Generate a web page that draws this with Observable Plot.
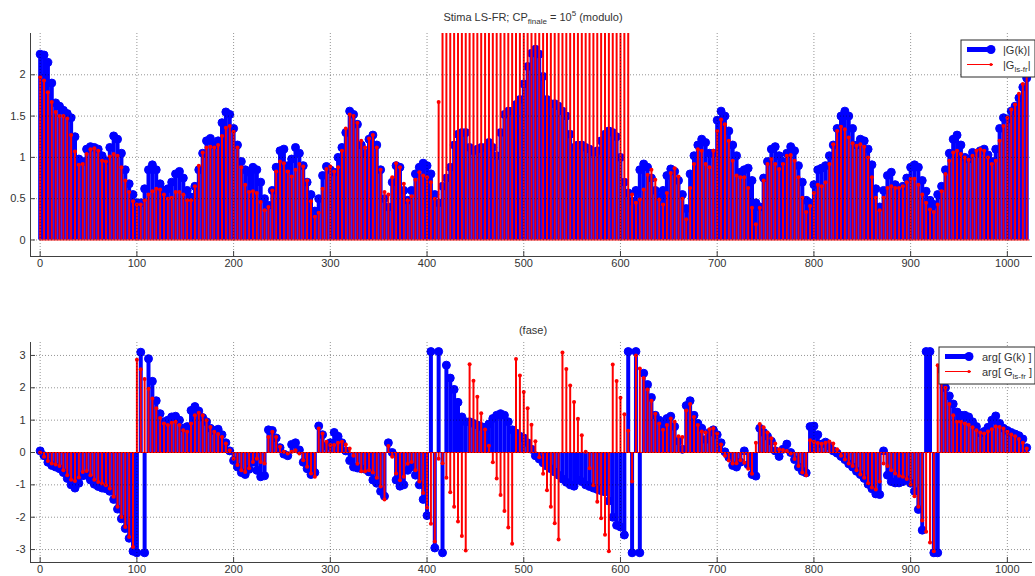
<!DOCTYPE html>
<html>
<head>
<meta charset="utf-8">
<script src="https://cdn.jsdelivr.net/npm/d3@7"></script>
<script src="https://cdn.jsdelivr.net/npm/@observablehq/plot@0.6"></script>
<style>
  body { margin: 0; background: #fff; }
  #chart { width: 1035px; height: 576px; position: relative; }
  #chart svg { display: block; overflow: visible; }
</style>
</head>
<body>
<div id="chart"></div>
<script>
// Frequency bins (every 4th bin of the 1024-point grid)
const k = d3.range(0, 1024, 4);

// |G(k)| : true frequency response magnitude
const magG = [
  2.25,2.24,2.15,1.9,1.66,1.62,1.57,1.53,1.48,1.25,0.98,0.95,1.1,1.13,1.12,1.1,
  1.02,0.96,1.12,1.26,1.22,1.05,0.85,0.68,0.55,0.45,0.45,0.62,0.85,0.91,0.85,0.68,
  0.6,0.62,0.7,0.8,0.83,0.75,0.6,0.52,0.65,0.85,1.05,1.2,1.23,1.15,1.2,1.42,
  1.55,1.52,1.35,1.15,0.95,0.85,0.82,0.88,0.85,0.7,0.5,0.42,0.6,0.88,1.08,1.1,
  0.9,0.98,1.12,1.05,0.9,0.7,0.55,0.35,0.5,0.78,0.89,0.85,0.82,1.0,1.12,1.3,
  1.56,1.52,1.4,1.15,1.05,1.22,1.27,1.15,0.85,0.5,0.4,0.7,0.9,0.88,0.6,0.48,
  0.6,0.8,0.88,0.93,0.9,0.8,0.55,0.45,0.65,0.75,0.88,1.15,1.28,1.3,1.3,1.12,
  1.08,1.1,1.12,1.12,1.18,1.12,1.02,1.3,1.52,1.56,1.56,1.64,1.7,1.89,2.1,2.26,
  2.31,2.25,1.98,1.7,1.65,1.65,1.62,1.56,1.5,1.28,1.12,1.15,1.15,1.12,1.1,1.06,
  1.08,1.2,1.28,1.32,1.3,1.25,1.0,0.7,0.57,0.47,0.6,0.85,0.92,0.88,0.75,0.6,
  0.52,0.6,0.78,0.86,0.83,0.72,0.55,0.38,0.8,1.02,1.15,1.22,1.18,1.05,1.05,1.45,
  1.56,1.5,1.32,1.15,1.02,0.82,0.85,0.87,0.72,0.45,0.4,0.75,0.95,1.1,1.13,1.02,
  0.95,1.05,1.13,1.08,0.9,0.7,0.48,0.45,0.67,0.85,0.87,0.9,1.02,1.15,1.35,1.5,
  1.56,1.5,1.35,1.15,1.22,1.2,1.1,0.91,0.62,0.4,0.6,0.78,0.82,0.67,0.6,0.65,
  0.75,0.88,0.91,0.88,0.72,0.59,0.48,0.43,0.55,0.65,0.85,1.05,1.22,1.27,1.15,1.0,
  0.98,1.06,1.05,1.08,1.1,1.03,0.95,1.1,1.35,1.48,1.46,1.56,1.62,1.72,1.85,1.96
];

// |G_ls-fr| : LS frequency-response estimate (bins 416..608 run past the top of the axis)
const magLS = [
  1.97,1.93,1.79,1.67,1.55,1.5,1.5,1.47,1.27,1.07,0.91,0.92,1.04,1.1,1.11,1.08,
  0.96,0.95,1.01,1.04,1.02,0.88,0.72,0.58,0.47,0.43,0.43,0.48,0.55,0.59,0.62,0.61,
  0.55,0.5,0.51,0.58,0.58,0.55,0.48,0.48,0.65,0.9,1.06,1.12,1.13,1.12,1.15,1.26,
  1.36,1.38,1.31,1.12,0.88,0.67,0.58,0.59,0.57,0.46,0.36,0.4,0.6,0.83,0.95,0.93,
  0.83,0.77,0.85,0.92,0.89,0.72,0.47,0.28,0.33,0.62,0.86,0.89,0.83,0.88,1.08,1.35,
  1.52,1.5,1.42,1.2,1.12,1.23,1.27,1.12,0.85,0.58,0.55,0.76,0.93,0.88,0.68,0.48,
  0.53,0.73,0.82,0.78,0.76,0.7,0.5,1.67,3,3,3,3,3,3,3,3,
  3,3,3,3,3,3,3,3,3,3,3,3,3,3,3,3,
  3,3,3,3,3,3,3,3,3,3,3,3,3,3,3,3,
  3,3,3,3,3,3,3,3,3,0.55,0.45,0.49,0.61,0.79,0.85,0.73,
  0.49,0.43,0.57,0.81,0.87,0.77,0.5,0.25,0.63,0.92,1.1,1.08,0.92,0.88,1.08,1.32,
  1.46,1.4,1.2,0.96,0.78,0.76,0.76,0.63,0.39,0.19,0.39,0.72,0.92,0.98,0.92,0.86,
  0.92,1.02,1.03,0.96,0.76,0.51,0.34,0.41,0.57,0.67,0.65,0.7,0.92,1.16,1.32,1.37,
  1.34,1.24,1.17,1.14,1.16,1.13,1.0,0.76,0.51,0.36,0.51,0.63,0.65,0.63,0.63,0.65,
  0.7,0.74,0.74,0.67,0.55,0.45,0.37,0.34,0.43,0.59,0.8,0.96,1.06,1.08,1.04,1.0,
  0.97,1.02,1.08,1.1,1.08,1.0,0.92,0.96,1.2,1.38,1.48,1.58,1.64,1.77,1.89,1.99
];

// arg[G(k)] : true phase (rad)
const argG = [
  0.05,-0.1,-0.3,-0.4,-0.45,-0.5,-0.62,-0.8,-1.0,-1.1,-0.95,-0.72,-0.7,-0.85,-0.98,-1.05,
  -1.1,-1.12,-1.2,-1.45,-1.75,-2.05,-2.35,-2.65,-3.05,-3.1,3.1,-3.1,2.9,2.2,1.6,1.2,
  0.95,1.0,1.1,1.12,1.0,0.75,0.8,1.3,1.42,1.28,1.08,0.95,0.75,0.68,0.72,0.55,
  0.3,0.05,-0.25,-0.45,-0.62,-0.68,-0.52,-0.3,-0.55,-0.75,-0.72,0.7,0.68,0.45,0.15,-0.05,
  -0.1,0.25,0.3,0.08,-0.3,-0.5,-0.68,-0.62,0.82,0.55,0.2,0.3,0.62,0.5,0.3,0.05,
  -0.25,-0.45,-0.48,-0.5,-0.52,-0.6,-0.85,-0.95,-1.2,-1.35,0.3,0.0,-0.85,-1.04,-1.0,-0.55,
  -0.45,-0.7,-1.0,-1.45,-1.95,3.12,-2.95,3.12,-3.1,2.7,2.3,1.95,1.55,1.1,0.95,0.95,
  0.9,0.85,0.8,0.78,0.88,1.05,1.15,1.2,1.15,0.95,0.7,0.6,0.5,0.45,0.3,0.1,
  -0.1,-0.2,-0.32,-0.42,-0.5,-0.6,-0.7,-0.82,-0.92,-1.0,-1.04,-0.85,-0.9,-1.0,-1.05,-1.1,
  -1.14,-1.18,-1.22,-1.5,-2.0,-2.25,-2.3,-2.55,3.12,-3.1,3.12,-3.1,2.45,2.1,1.7,1.15,
  1.0,0.85,1.05,1.12,0.8,0.35,0.1,1.45,1.6,1.15,0.9,0.75,0.4,0.62,0.7,0.55,
  0.3,0.02,-0.15,-0.4,-0.45,-0.3,0.05,-0.38,-0.68,-0.73,0.75,0.62,0.5,0.35,0.05,-0.12,
  0.1,0.26,0.0,-0.22,-0.45,-0.58,-0.63,0.8,0.82,0.55,0.26,0.32,0.2,0.05,-0.02,-0.12,
  -0.22,-0.35,-0.45,-0.58,-0.68,-0.8,-0.98,-1.12,-1.28,-1.3,0.05,-0.7,-0.9,-0.94,-0.94,-0.9,
  -0.84,-0.95,-1.2,-1.76,-2.4,3.12,3.12,-3.1,-3.1,2.55,2.0,1.75,1.5,1.25,1.15,1.15,
  1.1,0.95,0.8,0.6,0.65,0.78,1.0,1.13,0.9,0.75,0.68,0.62,0.57,0.52,0.42,0.15
];

// arg[G_ls-fr] : phase of the LS estimate (rad)
const argLS = [
  0,-0.13,-0.26,-0.34,-0.37,-0.42,-0.55,-0.7,-0.84,-0.88,-0.77,-0.6,-0.57,-0.7,-0.84,-0.91,
  -0.96,-1.01,-1.11,-1.37,-1.68,-1.99,-2.3,-2.61,-2.92,2.87,2.57,2.27,1.97,1.67,1.37,1.07,
  0.9,0.85,0.92,0.95,0.85,0.69,0.64,0.9,1.15,1.23,1.15,1.0,0.79,0.64,0.57,0.48,
  0.28,0.07,-0.19,-0.39,-0.55,-0.6,-0.49,-0.29,-0.19,-0.29,-0.34,0.48,0.64,0.48,0.18,0.02,
  -0.03,0.02,0.07,-0.03,-0.24,-0.44,-0.65,-0.75,0.74,0.59,0.33,0.23,0.23,0.3,0.33,0.25,
  0.12,-0.1,-0.35,-0.58,-0.58,-0.55,-0.62,-0.78,-1.05,-1.45,0.2,-0.13,-0.65,-0.86,-0.75,-0.35,
  -0.29,-0.55,-0.9,-1.25,-1.7,-2.2,-2.75,-0.19,-0.33,-0.78,-1.23,-1.68,-2.13,-2.58,-3.03,2.73,
  2.22,1.72,1.21,0.71,0.21,-0.3,-0.8,-1.31,-1.81,-2.32,-2.82,2.89,2.38,1.87,1.37,0.86,
  0.35,-0.15,-0.66,-1.17,-1.68,-2.19,-2.69,3.09,2.58,2.07,1.56,1.04,0.53,0.02,-0.49,-1.01,
  -1.52,-2.03,-2.54,-3.05,2.72,2.21,1.69,1.18,0.67,-0.9,3.0,2.6,2.3,1.95,1.6,1.2,
  0.9,0.7,0.85,1.05,0.95,0.5,0.48,1.3,1.5,1.1,0.85,0.65,0.62,0.72,0.75,0.59,
  0.25,-0.1,-0.25,-0.34,-0.33,-0.24,-0.32,-0.5,-0.66,0.3,0.88,0.78,0.62,0.44,0.28,0.1,
  0.08,0.05,-0.03,-0.2,-0.42,-0.62,-0.7,0.38,0.33,0.29,0.27,0.3,0.34,0.28,0.1,-0.1,
  -0.22,-0.34,-0.42,-0.55,-0.68,-0.78,-0.95,-1.08,-1.14,-0.9,-0.34,-0.42,-0.55,-0.65,-0.72,-0.75,
  -0.82,-1.0,-1.35,-1.68,-2.1,-2.45,-2.78,-3.05,2.7,2.3,2.0,1.5,1.15,0.95,0.95,0.9,
  0.86,0.78,0.69,0.62,0.59,0.65,0.72,0.8,0.79,0.74,0.64,0.56,0.5,0.42,0.3,0.12
];

const xTicks = [0, 100, 200, 300, 400, 500, 600, 700, 800, 900, 1000];
const magTicks = [0, 0.5, 1, 1.5, 2];
const argTicks = [-3, -2, -1, 0, 1, 2, 3];

const W = 1035;
const FONT = "'Liberation Sans', Arial, Helvetica, sans-serif";
const INK = "#333";
const AXIS = "#404040";
const BLUE = "#0000ff";
const RED = "#ff0000";
const X_DOMAIN = [-10, 1026];
const ML = 30, MR = 3;

// One stem panel: blue stems (true G), red stems (LS estimate), dotted grid, MATLAB-like axes
function stemPanel({g, ls, yDomain, yTicks, height, marginTop, marginBottom}) {
  const rows = k.map((kk, i) => ({k: kk, g: g[i], ls: ls[i]}));
  const frameH = height - marginTop - marginBottom;
  const frameW = W - ML - MR;
  return Plot.plot({
    width: W,
    height,
    marginLeft: ML,
    marginRight: MR,
    marginTop,
    marginBottom,
    style: {fontFamily: FONT, fontSize: "11px", color: INK, background: "transparent", overflow: "visible"},
    x: {domain: X_DOMAIN, ticks: xTicks, tickSize: 0, tickPadding: 3, label: null, tickFormat: d => String(d)},
    y: {domain: yDomain, ticks: yTicks, tickSize: 0, tickPadding: 5, label: null, tickFormat: d => String(d)},
    marks: [
      Plot.ruleX(rows, {x: "k", y1: 0, y2: "g", stroke: BLUE, strokeWidth: 4, clip: true}),
      Plot.dot(rows, {x: "k", y: "g", r: 4, fill: BLUE, stroke: BLUE, strokeWidth: 1, clip: true}),
      Plot.ruleY([0], {x1: 0, x2: 1023, stroke: RED, strokeWidth: 1}),
      Plot.ruleX(rows, {x: "k", y1: 0, y2: "ls", stroke: RED, strokeWidth: 2, clip: true}),
      Plot.dot(rows, {x: "k", y: "ls", r: 2, fill: RED, stroke: "none", clip: true}),
      // dotted grid drawn over the stems
      Plot.ruleX(xTicks, {stroke: "#000", strokeOpacity: 0.42, strokeDasharray: "1,2"}),
      Plot.ruleY(yTicks, {stroke: "#000", strokeOpacity: 0.42, strokeDasharray: "1,2"}),
      // left and bottom axis lines
      Plot.ruleX([X_DOMAIN[0]], {stroke: AXIS}),
      Plot.ruleY([yDomain[0]], {stroke: AXIS}),
      // inward tick marks
      Plot.ruleX(xTicks, {stroke: AXIS, insetTop: frameH - 5}),
      Plot.ruleY(yTicks, {stroke: AXIS, insetRight: frameW - 5})
    ]
  });
}

// Boxed legend with a thick blue stem entry and a thin red stem entry
function addLegend(svg, box, entries) {
  const g = d3.select(svg).append("g").attr("font-family", FONT).attr("font-size", 11)
    .attr("fill", INK).attr("text-anchor", "start");
  g.append("rect").attr("x", box.x).attr("y", box.y).attr("width", box.w).attr("height", box.h)
    .attr("fill", "#fff").attr("stroke", "#2a2a2a").attr("stroke-width", 1);
  entries.forEach((e, i) => {
    const y = box.y + 9.5 + i * 15;
    g.append("line").attr("x1", box.x + 6).attr("x2", box.x + 32).attr("y1", y).attr("y2", y)
      .attr("stroke", e.color).attr("stroke-width", e.thick ? 5 : 1);
    g.append("circle").attr("cx", box.x + 30).attr("cy", y).attr("r", e.thick ? 4.5 : 1.6).attr("fill", e.color);
    const t = g.append("text").attr("x", box.x + box.textX).attr("y", y + 4).attr("text-anchor", "start");
    e.parts.forEach(p => {
      const s = t.append("tspan").text(p.t);
      if (p.sub) s.attr("font-size", 8).attr("dy", 3);
      if (p.back) s.attr("dy", -3);
    });
  });
}

const chart = document.getElementById("chart");

// Top panel: magnitude
const magPanel = stemPanel({g: magG, ls: magLS, yDomain: [-0.2, 2.5], yTicks: magTicks,
                            height: 290, marginTop: 33, marginBottom: 34});
chart.appendChild(magPanel);
{
  const t = d3.select(magPanel).append("text").attr("x", 533).attr("y", 21)
    .attr("text-anchor", "middle").attr("font-family", FONT).attr("font-size", 11).attr("fill", INK);
  t.append("tspan").text("Stima LS-FR; CP");
  t.append("tspan").text("finale").attr("font-size", 8).attr("dy", 3);
  t.append("tspan").text(" = 10").attr("dy", -3);
  t.append("tspan").text("5").attr("font-size", 8).attr("dy", -5);
  t.append("tspan").text(" (modulo)").attr("dy", 5);
}
addLegend(magPanel, {x: 961, y: 40, w: 74, h: 37, textX: 42}, [
  {color: BLUE, thick: true, parts: [{t: "|G(k)|"}]},
  {color: RED, thick: false, parts: [{t: "|G"}, {t: "ls-fr", sub: true}, {t: "|", back: true}]}
]);

// Bottom panel: phase
const phasePanel = stemPanel({g: argG, ls: argLS, yDomain: [-3.4, 3.4], yTicks: argTicks,
                              height: 286, marginTop: 52, marginBottom: 14});
chart.appendChild(phasePanel);
d3.select(phasePanel).append("text").attr("x", 533).attr("y", 44).attr("text-anchor", "middle")
  .attr("font-family", FONT).attr("font-size", 11).attr("fill", INK).text("(fase)");
addLegend(phasePanel, {x: 939, y: 57, w: 96, h: 37, textX: 43}, [
  {color: BLUE, thick: true, parts: [{t: "arg[ G(k) ]"}]},
  {color: RED, thick: false, parts: [{t: "arg[ G"}, {t: "ls-fr", sub: true}, {t: " ]", back: true}]}
]);
</script>
</body>
</html>
